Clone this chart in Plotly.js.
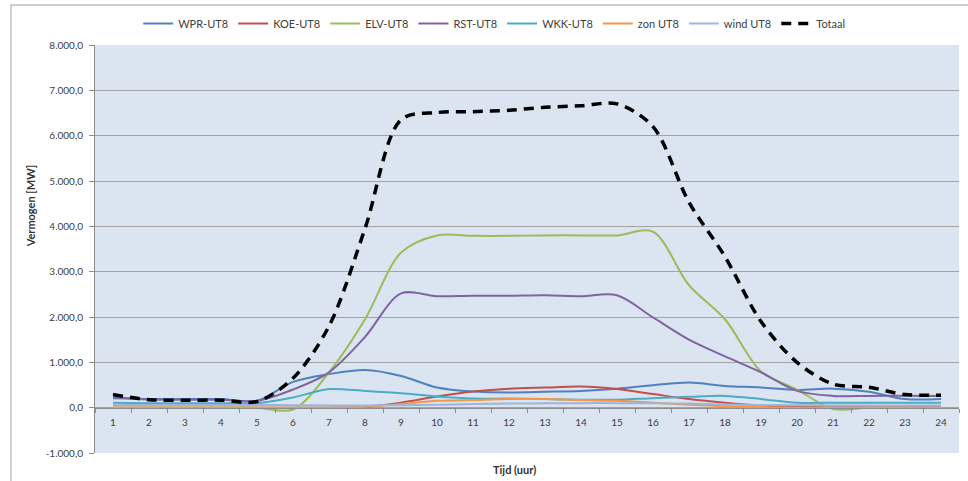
<!DOCTYPE html>
<html>
<head>
<meta charset="utf-8">
<script src="https://cdn.plot.ly/plotly-3.0.1.min.js"></script>
<style>html,body{margin:0;padding:0;background:#fff;}#chart{width:968px;height:481px;}</style>
</head>
<body>
<div id="chart"></div>
<script>
const hours = [1,2,3,4,5,6,7,8,9,10,11,12,13,14,15,16,17,18,19,20,21,22,23,24];

const wpr   = [210,190,190,190,150,570,740,830,700,445,355,335,350,370,420,495,555,480,445,390,420,350,190,190];
const koe   = [0,0,0,0,0,0,0,20,110,245,355,420,445,465,410,300,190,110,50,20,10,10,10,10];
const elv   = [0,0,0,0,0,-40,780,1950,3420,3800,3790,3790,3800,3800,3800,3880,2700,1950,800,400,-30,0,0,0];
const rst   = [230,180,175,175,150,400,780,1560,2520,2460,2470,2470,2480,2460,2480,1990,1500,1130,780,370,260,260,265,260];
const wkk   = [110,100,100,100,100,225,410,370,320,245,200,200,190,175,175,210,240,260,190,110,110,110,110,110];
const zon   = [0,0,0,0,0,0,0,20,80,150,170,190,190,170,150,110,65,30,10,0,0,0,0,0];
const wind  = [60,60,60,60,60,55,50,50,55,65,80,90,95,100,100,95,90,70,60,55,50,50,50,50];
const totaal= [290,175,165,165,135,650,1800,3950,6350,6510,6530,6560,6625,6660,6700,6200,4530,3330,1900,1000,520,450,290,275];

const names  = ['WPR-UT8','KOE-UT8','ELV-UT8','RST-UT8','WKK-UT8','zon UT8','wind UT8','Totaal'];
const colors = ['#4F81BD','#C0504D','#9BBB59','#8064A2','#4BACC6','#F79646','#9DB5DC','#000000'];
const series = [wpr,koe,elv,rst,wkk,zon,wind,totaal];

const yTicks = [-1000,0,1000,2000,3000,4000,5000,6000,7000,8000];
const yTickText = ['-1.000,0','0,0','1.000,0','2.000,0','3.000,0','4.000,0','5.000,0','6.000,0','7.000,0','8.000,0'];

const order = [6,5,4,1,0,3,2,7];
const traces = [];
for (let k = 0; k < series.length; k++) {
  const i = k;
  const isTot = names[i] === 'Totaal';
  traces.push({
    type: 'scatter', mode: 'lines', name: names[i], x: hours, y: series[i],
    line: {color: colors[i], width: isTot ? 3.5 : 2, shape: 'spline', smoothing: 0.9,
           dash: isTot ? '10px,7px' : 'solid'},
    hoverinfo: 'skip'
  });
}

const font = {family: 'Lato, "Open Sans", sans-serif', size: 10, color: '#404040'};

const layout = {
  width: 968, height: 481,
  margin: {l: 95, r: 9, t: 45, b: 28},
  paper_bgcolor: '#ffffff', plot_bgcolor: '#DBE5F1',
  font: font,
  showlegend: true,
  legend: {orientation: 'h', x: 0.05, y: 1.088, xanchor: 'left', yanchor: 'top',
           font: {family: font.family, size: 11, color: '#404040'}, bgcolor: 'rgba(0,0,0,0)',
           traceorder: 'normal', itemwidth: 30},
  xaxis: {type: 'category', anchor: 'free', position: 1/9, range: [-0.5, 23.5],
          showgrid: false, zeroline: false, showline: true, linecolor: '#8C8C8C', linewidth: 1,
          ticks: 'outside', tickson: 'boundaries', ticklen: 4, tickcolor: '#8C8C8C',
          ticklabelstandoff: 5, tickfont: font, fixedrange: true},
  yaxis: {range: [-1000, 8000], tickvals: yTicks, ticktext: yTickText,
          showgrid: true, gridcolor: '#A3A3A3', gridwidth: 1, zeroline: false,
          showline: true, linecolor: '#8C8C8C', linewidth: 1,
          ticks: 'outside', ticklen: 5, tickcolor: '#8C8C8C', ticklabelstandoff: 4,
          tickfont: font, fixedrange: true},
  shapes: [
    {type: 'rect', xref: 'paper', yref: 'paper', x0: -0.0972, x1: 1.2, y0: -0.3, y1: 1.098,
     line: {color: '#BFBFBF', width: 1.5}, fillcolor: 'rgba(0,0,0,0)', layer: 'below'}
  ],
  annotations: [
    {text: '<b>Vermogen [MW]</b>', xref: 'paper', yref: 'paper', x: -0.075, y: 0.605,
     xanchor: 'center', yanchor: 'middle', textangle: -90, showarrow: false,
     font: {family: font.family, size: 11, color: '#333333'}},
    {text: '<b>Tijd (uur)</b>', xref: 'paper', yref: 'paper', x: 0.485, y: -0.04,
     xanchor: 'center', yanchor: 'middle', showarrow: false,
     font: {family: font.family, size: 11, color: '#333333'}}
  ]
};

Plotly.newPlot('chart', traces, layout, {staticPlot: true, displayModeBar: false});
</script>
</body>
</html>
